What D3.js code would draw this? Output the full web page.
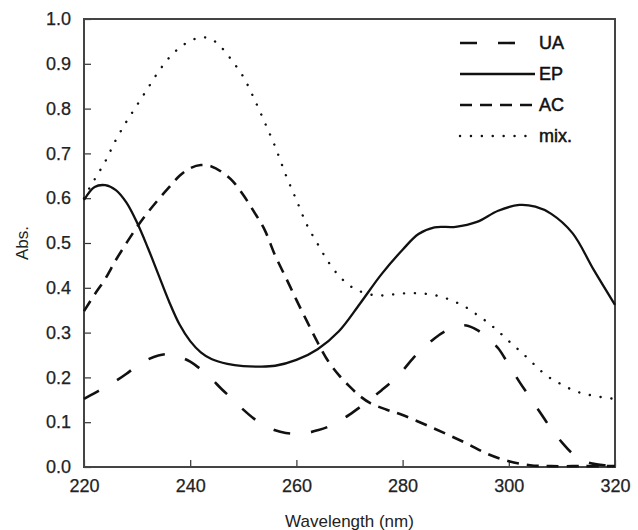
<!DOCTYPE html>
<html>
<head>
<meta charset="utf-8">
<script src="https://cdn.jsdelivr.net/npm/d3@7"></script>
<style>
  body { margin: 0; background: #fff; }
  svg { display: block; font-family: "Liberation Sans", Arial, sans-serif; }
</style>
</head>
<body>
<svg width="638" height="530"></svg>
<script>
// absorbance spectra (wavelength nm, Abs.)
const uaWl  = [220,222,224,226,228,230,232,234,236,238,240,242,244,246,248,250,252,254,256,258,260,262,264,266,268,270,272,274,276,278,280,282,284,286,288,290,292,294,296,298,300,302,304,306,308,310,312,314,316,318,320]
const uaAbs = [0.152,0.165,0.178,0.192,0.208,0.226,0.24,0.249,0.252,0.246,0.235,0.218,0.197,0.173,0.151,0.128,0.108,0.093,0.082,0.076,0.074,0.076,0.082,0.09,0.102,0.117,0.134,0.152,0.171,0.191,0.215,0.243,0.266,0.287,0.303,0.313,0.316,0.306,0.288,0.265,0.228,0.19,0.155,0.12,0.085,0.055,0.03,0.014,0.007,0.004,0.003]

const epWl  = [220,222,224,226,228,230,232,234,236,238,240,242,244,247,250,253,256,260,264,268,272,276,280,283,286,290,294,298,302,305,308,312,316,320]
const epAbs = [0.596,0.625,0.629,0.618,0.59,0.545,0.49,0.43,0.37,0.318,0.281,0.256,0.241,0.23,0.225,0.224,0.226,0.239,0.263,0.303,0.365,0.43,0.485,0.52,0.535,0.536,0.547,0.572,0.585,0.581,0.565,0.522,0.44,0.362]

const acWl  = [220,222,224,226,228,230,232,234,236,238,240,242,244,246,248,250,252,254,256,258,260,262,264,266,268,270,272,274,277,280,284,288,292,296,300,304,308,314,320]
const acAbs = [0.348,0.385,0.42,0.462,0.5,0.536,0.568,0.597,0.624,0.65,0.667,0.674,0.671,0.658,0.638,0.607,0.57,0.53,0.472,0.423,0.373,0.325,0.278,0.236,0.205,0.18,0.158,0.142,0.128,0.116,0.096,0.075,0.053,0.029,0.013,0.004,0.002,0.002,0.002]

const mixWl  = [220,221,222,224,226,228,230,232,234,236,238,240,242,244,246,248,250,252,254,256,258,260,262,264,266,268,270,272,275,278,281,284,287,290,292,294,296,298,300,302,304,306,308,310,312,314,316,318,320]
const mixAbs = [0.6,0.622,0.642,0.682,0.73,0.771,0.808,0.845,0.882,0.913,0.936,0.951,0.959,0.955,0.935,0.905,0.871,0.823,0.77,0.715,0.652,0.596,0.54,0.498,0.458,0.427,0.405,0.392,0.383,0.385,0.388,0.387,0.381,0.368,0.356,0.34,0.323,0.303,0.281,0.26,0.238,0.215,0.197,0.184,0.172,0.164,0.159,0.155,0.152]

const seriesNames = ['UA','EP','AC','mix.']
const xTicks = [220,240,260,280,300,320]
const yTicks = [0,0.1,0.2,0.3,0.4,0.5,0.6,0.7,0.8,0.9,1.0]

const svg = d3.select('svg')
const width = +svg.attr('width')
const height = +svg.attr('height')
const margin = { top:19, right:23, bottom:63, left:84 }
const innerW = width - margin.left - margin.right
const innerH = height - margin.top - margin.bottom

const xScale = d3.scaleLinear().domain([220,320]).range([0,innerW])
const yScale = d3.scaleLinear().domain([0,1]).range([innerH,0])

const g = svg.append('g')
    .attr('transform', `translate(${margin.left},${margin.top})`)

// axes, ticks point inward
const xAxisG = g.append('g')
    .attr('transform', `translate(0,${innerH})`)
    .call(d3.axisBottom(xScale).tickValues(xTicks).tickFormat(d3.format('d')).tickSizeInner(-7).tickSizeOuter(0).tickPadding(12))
const yAxisG = g.append('g')
    .call(d3.axisLeft(yScale).tickValues(yTicks).tickFormat(d3.format('.1f')).tickSizeInner(-7).tickSizeOuter(0).tickPadding(13))

;[xAxisG, yAxisG].forEach(a => {
    a.select('.domain').remove()
    a.selectAll('.tick line').attr('stroke','#333').attr('stroke-width',1.2)
    a.selectAll('.tick text')
        .attr('fill','#222').attr('stroke','#222').attr('stroke-width',0.25)
        .style('font-size','18px')
})

// frame
g.append('rect')
    .attr('width', innerW).attr('height', innerH)
    .attr('fill','none').attr('stroke','#444').attr('stroke-width',2)

// axis titles
svg.append('text')
    .attr('x', margin.left + innerW/2).attr('y', height - 3)
    .attr('text-anchor','middle').attr('fill','#222')
    .style('font-size','17px')
    .text('Wavelength (nm)')
svg.append('text')
    .attr('transform', `translate(28,${margin.top + innerH/2}) rotate(-90)`)
    .attr('text-anchor','middle').attr('fill','#222')
    .style('font-size','17px')
    .text('Abs.')

const styles = {
    'UA':   { dash:'17,21', w:2.6, cap:'butt' },
    'EP':   { dash:null,    w:2.3, cap:'butt' },
    'AC':   { dash:'12,8',  w:2.6, cap:'butt' },
    'mix.': { dash:'0.1,10.8', w:2.4, cap:'round' }
}

const series = [
    { name:'UA',   wl:uaWl,  abs:uaAbs },
    { name:'EP',   wl:epWl,  abs:epAbs },
    { name:'AC',   wl:acWl,  abs:acAbs },
    { name:'mix.', wl:mixWl, abs:mixAbs }
]

const line = d3.line()
    .x(d => xScale(d[0]))
    .y(d => yScale(d[1]))
    .curve(d3.curveCatmullRom.alpha(0.5))

series.forEach(s => {
    const st = styles[s.name]
    g.append('path')
        .datum(s.wl.map((w,i) => [w, s.abs[i]]))
        .attr('d', line)
        .attr('fill','none')
        .attr('stroke','#111')
        .attr('stroke-width', st.w)
        .attr('stroke-linecap', st.cap)
        .attr('stroke-dasharray', st.dash)
})

// legend
const legend = svg.append('g')
seriesNames.forEach((name,i) => {
    const st = styles[name]
    const y = 43 + i*31
    legend.append('line')
        .attr('x1', 460).attr('x2', name === 'UA' ? 518 : 535)
        .attr('y1', y).attr('y2', y)
        .attr('stroke','#111')
        .attr('stroke-width', st.w)
        .attr('stroke-linecap', st.cap)
        .attr('stroke-dasharray', st.dash)
    legend.append('text')
        .attr('x', 539).attr('y', y)
        .attr('dy','0.35em')
        .attr('fill','#111').attr('stroke','#111').attr('stroke-width',0.5)
        .style('font-size','18px')
        .text(name)
})
</script>
</body>
</html>
